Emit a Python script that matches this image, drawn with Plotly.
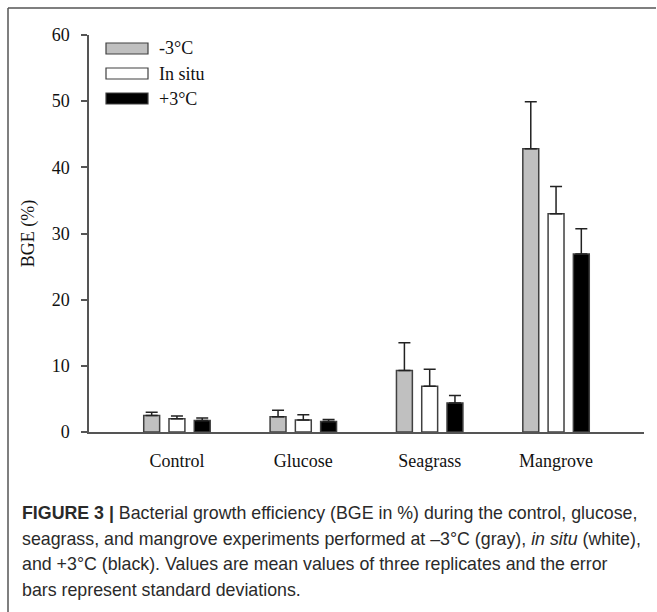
import plotly.graph_objects as go

categories = ["Control", "Glucose", "Seagrass", "Mangrove"]
series_names = ["-3°C", "In situ", "+3°C"]
minus3_mean = [2.5, 2.3, 9.3, 42.8]
minus3_sd = [0.5, 1.0, 4.2, 7.1]
insitu_mean = [2.0, 1.8, 6.9, 33.0]
insitu_sd = [0.4, 0.8, 2.6, 4.1]
plus3_mean = [1.75, 1.6, 4.4, 26.9]
plus3_sd = [0.35, 0.3, 1.1, 3.8]
y_ticks = [0, 10, 20, 30, 40, 50, 60]

fills = ["#c0c0c0", "#ffffff", "#000000"]
means = [minus3_mean, insitu_mean, plus3_mean]
sds = [minus3_sd, insitu_sd, plus3_sd]

W, H = 657, 612
L, R, T, B = 89, 13, 35, 180
PW, PH = W - L - R, H - T - B

def px(x):
    return (x - L) / PW

def py(y):
    return (H - B - y) / PH

serif = "Liberation Serif, Times New Roman, serif"
sans = "Liberation Sans, Arial, sans-serif"

fig = go.Figure()
for name, m, s, c in zip(series_names, means, sds, fills):
    fig.add_trace(go.Bar(
        x=categories, y=m, name=name,
        marker=dict(color=c, line=dict(color="#404040", width=1.5)),
        error_y=dict(type="data", array=s, arrayminus=[0] * len(s), symmetric=False,
                     color="#222222", thickness=1.5, width=6),
        showlegend=False,
    ))

shapes = []
annotations = []
# custom legend
for i, (name, c) in enumerate(zip(series_names, fills)):
    cy = 48.5 + i * 25
    shapes.append(dict(type="rect", xref="paper", yref="paper",
                       x0=px(106), x1=px(148), y0=py(cy + 5.5), y1=py(cy - 5.5),
                       fillcolor=c, line=dict(color="#404040", width=1.2)))
    annotations.append(dict(xref="paper", yref="paper", x=px(157), y=py(cy),
                            xanchor="left", yanchor="middle", showarrow=False,
                            text=name, font=dict(family=serif, size=18, color="#111")))

# frame lines (top and left)
shapes.append(dict(type="line", xref="paper", yref="paper", x0=px(8), x1=px(656),
                   y0=py(8), y1=py(8), line=dict(color="#555", width=1.5)))
shapes.append(dict(type="line", xref="paper", yref="paper", x0=px(8), x1=px(8),
                   y0=py(8), y1=py(612), line=dict(color="#555", width=1.5)))

caption_lines = [
    "<b>FIGURE 3 |</b> Bacterial growth efficiency (BGE in %) during the control, glucose,",
    "seagrass, and mangrove experiments performed at –3°C (gray), <i>in situ</i> (white),",
    "and +3°C (black). Values are mean values of three replicates and the error",
    "bars represent standard deviations.",
]
for i, line in enumerate(caption_lines):
    annotations.append(dict(xref="paper", yref="paper", x=px(20), y=py(513 + i * 25.5),
                            xanchor="left", yanchor="middle", showarrow=False,
                            text=line, font=dict(family=sans, size=17.8, color="#2a2a2a")))

fig.update_layout(
    width=W, height=H,
    margin=dict(l=L, r=R, t=T, b=B),
    paper_bgcolor="white", plot_bgcolor="white",
    barmode="group", bargap=0.4, bargroupgap=0.37,
    shapes=shapes, annotations=annotations,
    font=dict(family=serif, size=18, color="#111"),
)
fig.update_xaxes(range=[-0.696, 3.696], showline=True, linecolor="#555", linewidth=1.5,
                 ticks="", showgrid=False, zeroline=False, ticklabelstandoff=12,
                 tickfont=dict(family=serif, size=18, color="#111"))
fig.update_yaxes(range=[0, 60], tickvals=y_ticks, showline=True, linecolor="#555",
                 linewidth=1.5, ticks="outside", ticklen=6, tickcolor="#555", tickwidth=1.5,
                 showgrid=False, zeroline=False, ticklabelstandoff=8,
                 title=dict(text="BGE (%)", font=dict(family=serif, size=18, color="#111"),
                            standoff=12),
                 tickfont=dict(family=serif, size=18, color="#111"))

fig.write_html("out.html")
